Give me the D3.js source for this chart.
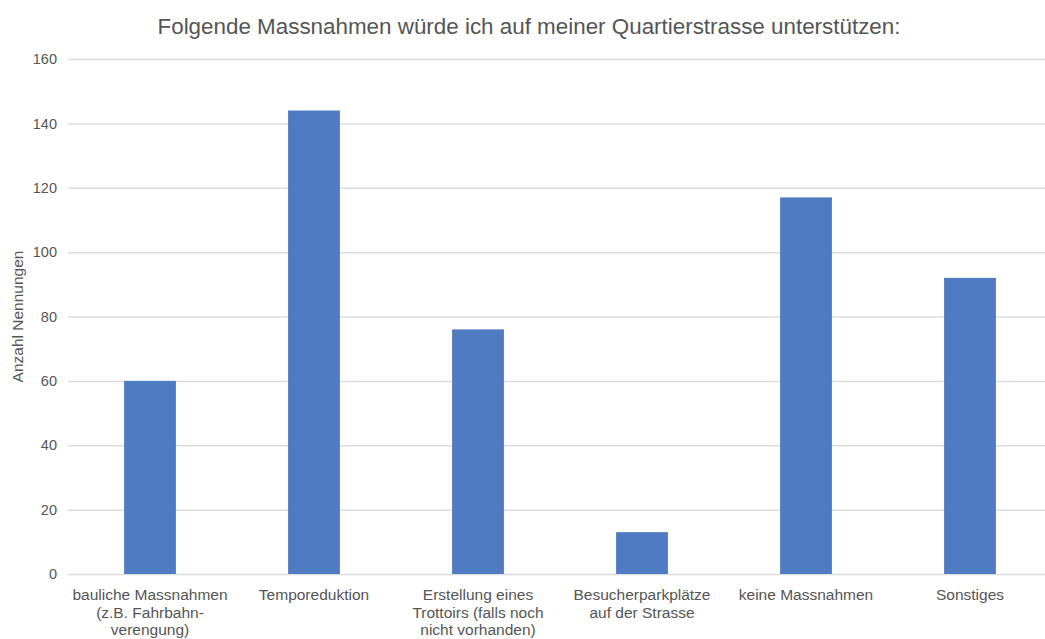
<!DOCTYPE html>
<html>
<head>
<meta charset="utf-8">
<script src="https://cdn.jsdelivr.net/npm/d3@7"></script>
<style>
	body { margin: 0; background: #fff; }
	svg text { font-family: "Liberation Sans", Arial, sans-serif; fill: #555; }
</style>
</head>
<body>
<div id="chart"></div>
<script>
// ********** Data **********
const categories = [
	'bauliche Massnahmen (z.B. Fahrbahn-verengung)',
	'Temporeduktion',
	'Erstellung eines Trottoirs (falls noch nicht vorhanden)',
	'Besucherparkplätze auf der Strasse',
	'keine Massnahmen',
	'Sonstiges'
];
// Line breaks of the category labels as shown
const categoryLines = [
	['bauliche Massnahmen', '(z.B. Fahrbahn-', 'verengung)'],
	['Temporeduktion'],
	['Erstellung eines', 'Trottoirs (falls noch', 'nicht vorhanden)'],
	['Besucherparkplätze', 'auf der Strasse'],
	['keine Massnahmen'],
	['Sonstiges']
];
const values = [60, 144, 76, 13, 117, 92];
const yTicks = [0, 20, 40, 60, 80, 100, 120, 140, 160];

const chartTitle = 'Folgende Massnahmen würde ich auf meiner Quartierstrasse unterstützen:';
const yLabel = 'Anzahl Nennungen';

// Size and margins
const width = 1045, height = 639;
const margin = { top: 59, left: 68, right: -7, bottom: 65 };

const svg = d3.select('#chart')
	.append('svg')
	.attr('width', width)
	.attr('height', height);

// Scales
const xScale = d3.scaleBand()
	.domain(categories)
	.range([margin.left, width - margin.right])
	.paddingInner(0.684)
	.paddingOuter(0.342);

const yScale = d3.scaleLinear()
	.domain([0, 160])
	.range([height - margin.bottom, margin.top]);

// Gridlines
svg.append('g')
	.attr('class', 'grid')
	.selectAll('line')
	.data(yTicks)
	.join('line')
	.attr('x1', margin.left)
	.attr('x2', width)
	.attr('y1', d => yScale(d) + 0.5)
	.attr('y2', d => yScale(d) + 0.5)
	.attr('stroke', '#dcdcdc')
	.attr('stroke-width', 1.5);

// Y axis tick labels
const yAxis = d3.axisLeft(yScale)
	.tickValues(yTicks)
	.tickSize(0)
	.tickPadding(11);

svg.append('g')
	.attr('class', 'y axis')
	.attr('transform', `translate(${margin.left}, 0)`)
	.call(yAxis)
	.call(g => g.select('.domain').remove())
	.call(g => g.selectAll('text')
		.attr('font-size', 14.5)
		.attr('font-family', null)
		.attr('fill', null));

// Bars
svg.append('g')
	.attr('class', 'bars')
	.selectAll('rect')
	.data(values)
	.join('rect')
	.attr('x', (d, i) => xScale(categories[i]))
	.attr('y', d => yScale(d))
	.attr('width', xScale.bandwidth())
	.attr('height', d => yScale(0) - yScale(d))
	.attr('fill', '#4f7bc2');

// X axis category labels (multi-line)
const xLabels = svg.append('g')
	.attr('class', 'x axis')
	.selectAll('text')
	.data(categories)
	.join('text')
	.attr('text-anchor', 'middle')
	.attr('font-size', 15.5)
	.attr('x', d => xScale(d) + xScale.bandwidth() / 2)
	.attr('y', yScale(0) + 26);

xLabels.each(function(d, i) {
	const t = d3.select(this);
	categoryLines[i].forEach((line, j) => {
		t.append('tspan')
			.attr('x', xScale(d) + xScale.bandwidth() / 2)
			.attr('dy', j === 0 ? 0 : 17.5)
			.text(line);
	});
});

// Title
svg.append('text')
	.attr('class', 'title')
	.attr('x', 529)
	.attr('y', 34)
	.attr('text-anchor', 'middle')
	.attr('font-size', 22.4)
	.text(chartTitle);

// Y axis label
svg.append('text')
	.attr('class', 'label y')
	.attr('transform', `translate(23, ${(yScale(0) + yScale(160)) / 2}) rotate(-90)`)
	.attr('text-anchor', 'middle')
	.attr('font-size', 15.5)
	.text(yLabel);
</script>
</body>
</html>
